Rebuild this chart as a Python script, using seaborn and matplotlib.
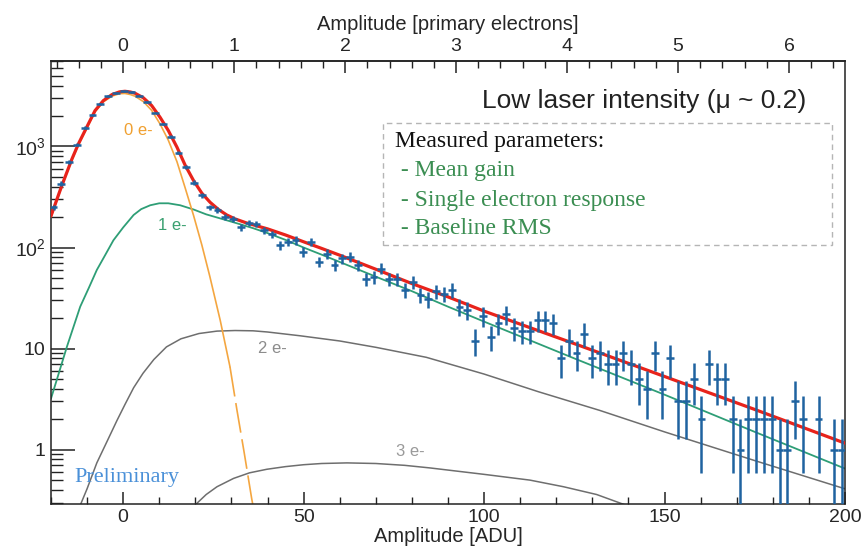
import numpy as np
import matplotlib
matplotlib.use("Agg")
import matplotlib.pyplot as plt
from matplotlib.patches import Rectangle
from matplotlib.ticker import MultipleLocator, LogLocator, FixedLocator, FixedFormatter, NullFormatter
import seaborn as sns

# histogram: entries per bin, bins of 2.163 ADU, first centre at -19.3 ADU
bin_first = -19.3
bin_width = 2.163
counts = [250, 430, 700, 1040, 1540, 2050, 2640, 3150, 3390, 3500,
          3450, 3180, 2735, 2166, 1660, 1250, 870, 625, 440, 330,
          250, 236, 202, 193, 160, 176, 172, 148, 135, 105,
          114, 118, 91, 114, 72, 87, 67, 78, 81, 67,
          49, 51, 62, 49, 49, 38, 46, 34, 31, 37,
          35, 38, 26, 24, 12, 21, 13, 18, 22, 16,
          15, 15, 19, 19, 18, 8, 12, 9, 14, 8,
          9, 7, 7, 9, 7, 5, 4, 9, 4, 8,
          3, 3, 5, 2, 7, 5, 5, 2, 1, 2,
          2, 2, 2, 1, 1, 3, 2, 0, 2, 0,
          1, 1]

# fit curves (ADU, entries)
total_x = [-20, -17, -14.2, -12.4, -10.1, -7.8, -5.5, -3.1, -1, 0.5, 2, 3.3, 5.6, 7.9, 10.2,
           12.5, 14.9, 17.2, 19.5, 21.8, 24.1, 26.4, 28.7, 31, 34, 37, 40, 45, 50, 55, 60,
           70, 80, 90, 100, 125, 150, 175, 200]
total_y = [205, 410, 750, 1060, 1550, 2260, 2840, 3260, 3470, 3515, 3460, 3360, 3030, 2540, 1950,
           1440, 985, 650, 460, 345, 280, 238, 210, 192, 176, 164, 153, 133, 114, 98, 84,
           61, 44, 32.5, 23.5, 11.2, 5.3, 2.5, 1.16]

e0_x = [-20, -17, -14.2, -12.4, -10.1, -7.8, -5.5, -3.1, -1, 0.5, 2, 3.3, 5.6, 7.9, 10.2,
        12.5, 14.9, 17.2, 19.5, 21.8, 24, 26.9, 29.6]
e0_y = [200, 403, 735, 1037, 1512, 2205, 2760, 3148, 3330, 3345, 3265, 3140, 2780, 2275, 1675,
        1155, 708, 387, 208, 106, 52, 19, 6.6]
e0_tail_x = [29.6, 31.5, 33.5, 35.6, 36.5]
e0_tail_y = [6.6, 2.5, 0.95, 0.33, 0.22]

e1_x = [-20, -18.4, -15.6, -11.9, -9.5, -7.3, -5, -2.7, 0, 2.9, 5, 7.5, 10, 12.5, 15.8, 19.5,
        23, 28.7, 32.4, 36.1, 40, 45, 50, 55, 60, 70, 80, 90, 100, 125, 150, 175, 200]
e1_y = [3.2, 4.9, 10.4, 26, 40, 60, 84, 118, 158, 210, 240, 262, 274, 274, 262, 238,
        213, 186, 170, 155, 139, 119, 100, 85, 72, 51.5, 37, 26, 18.5, 8.0, 3.5, 1.5, 0.65]

e2_x = [-12.5, -10, -7.3, -4.5, -1.7, 0.5, 2.9, 5.5, 8.5, 12, 16, 21, 26, 31, 36, 40, 49,
        60, 70, 84, 100, 115, 132, 150, 175, 200]
e2_y = [0.25, 0.41, 0.74, 1.2, 1.95, 2.8, 4.1, 5.7, 7.8, 10.4, 12.5, 14.1, 14.9, 15.1, 15.0, 14.6, 13.4,
        11.9, 10.3, 8.2, 5.6, 3.75, 2.45, 1.5, 0.78, 0.41]

e3_x = [20, 23, 26, 30.6, 35, 39.8, 45, 50, 55, 62, 70, 78, 85, 100, 112.7, 122, 131.2, 139]
e3_y = [0.285, 0.36, 0.43, 0.52, 0.59, 0.64, 0.68, 0.71, 0.73, 0.74, 0.73, 0.70, 0.66, 0.57,
        0.50, 0.43, 0.36, 0.285]

GAIN = 30.75  # ADU per primary electron
electron_ticks = [0, 1, 2, 3, 4, 5, 6]

sns.set_theme(style="ticks")
plt.rcParams['font.family'] = ['Liberation Sans', 'DejaVu Sans']
plt.rcParams['axes.edgecolor'] = '#222222'
plt.rcParams['axes.linewidth'] = 1.1

fig, ax = plt.subplots(figsize=(8.64, 5.5), dpi=100)
fig.subplots_adjust(left=0.059, right=0.978, bottom=0.0836, top=0.889)
ax.set_yscale('log')

grey = '#6e6e6e'
sns.lineplot(x=e3_x, y=e3_y, ax=ax, color=grey, lw=1.1, zorder=2)
sns.lineplot(x=e2_x, y=e2_y, ax=ax, color=grey, lw=1.1, zorder=2)
sns.lineplot(x=e1_x, y=e1_y, ax=ax, color='#2e9e76', lw=1.3, zorder=2)
sns.lineplot(x=e0_x, y=e0_y, ax=ax, color='#f4a640', lw=1.2, zorder=2)
sns.lineplot(x=e0_tail_x, y=e0_tail_y, ax=ax, color='#f4a640', lw=1.2, zorder=2,
             linestyle=(0, (18, 4)))
sns.lineplot(x=total_x, y=total_y, ax=ax, color='#e8231b', lw=2.3, zorder=3)

# data points with Poisson errors
n = np.array(counts, dtype=float)
xc = bin_first + bin_width * np.arange(len(n))
ok = n > 0
err = np.sqrt(n[ok])
lo = np.minimum(err, n[ok] * 0.999)
ax.errorbar(xc[ok], n[ok], xerr=bin_width / 2, yerr=[lo, err], fmt='none',
            ecolor='#1f63a0', elinewidth=1.8, capsize=0, zorder=4)

ax.set_xlim(-20, 200)
ax.set_ylim(0.29, 7000)

# axes ticks
ax.xaxis.set_major_locator(MultipleLocator(50))
ax.xaxis.set_minor_locator(MultipleLocator(10))
ax.yaxis.set_major_locator(FixedLocator([1, 10, 100, 1000]))
ax.yaxis.set_major_formatter(FixedFormatter(['1', '10', r'$\mathregular{10^2}$', r'$\mathregular{10^3}$']))
ax.yaxis.set_minor_locator(LogLocator(base=10, subs=np.arange(2, 10)))
ax.yaxis.set_minor_formatter(NullFormatter())
ax.tick_params(axis='x', which='major', direction='in', length=8.5, width=1.1,
               labelsize=14, pad=3.5, top=False, color='#222222')
ax.tick_params(axis='x', which='minor', direction='in', length=5, width=1.0, top=False,
               color='#222222')
ax.tick_params(axis='y', which='major', direction='in', length=17, width=1.1,
               labelsize=14, pad=4, right=False, color='#222222')
ax.tick_params(axis='y', which='minor', direction='in', length=8.5, width=1.0, right=False,
               color='#222222')
ax.set_xlabel('Amplitude [ADU]', fontsize=14.5, labelpad=1)
ax.set_ylabel('')

top = ax.secondary_xaxis('top', functions=(lambda a: a / GAIN, lambda e: e * GAIN))
top.xaxis.set_major_locator(FixedLocator(electron_ticks))
top.xaxis.set_minor_locator(MultipleLocator(0.2))
top.tick_params(axis='x', which='major', direction='in', length=8.5, width=1.1,
                labelsize=14, pad=4, color='#222222')
top.tick_params(axis='x', which='minor', direction='in', length=5, width=1.0, color='#222222')
top.set_xlabel('Amplitude [primary electrons]', fontsize=14.5, labelpad=6)

# curve labels
ax.text(4.2, 1440, '0 e-', color='#f0a030', fontsize=12, ha='center', va='center')
ax.text(13.6, 166, '1 e-', color='#3aa070', fontsize=12, ha='center', va='center')
ax.text(41.3, 10, '2 e-', color='#8c8c8c', fontsize=12, ha='center', va='center')
ax.text(79.5, 0.95, '3 e-', color='#9a9a9a', fontsize=12, ha='center', va='center')

ax.text(0.951, 0.910, 'Low laser intensity (\u03bc ~ 0.2)', transform=ax.transAxes,
        fontsize=19, ha='right', va='center', color='#222222')

ax.add_patch(Rectangle((0.418, 0.585), 0.566, 0.275, transform=ax.transAxes, fill=False,
                       edgecolor='#b5b5b5', lw=1.0, linestyle=(0, (4, 3)), zorder=1))
serif = ['Liberation Serif', 'DejaVu Serif']
ax.text(0.433, 0.819, 'Measured parameters:', transform=ax.transAxes, fontsize=17,
        family=serif, color='#111111', va='center')
for yy, s in zip([0.752, 0.686, 0.623],
                 [' - Mean gain', ' - Single electron response', ' - Baseline RMS']):
    ax.text(0.433, yy, s, transform=ax.transAxes, fontsize=17, family=serif,
            color='#3b8e52', va='center')

ax.text(0.030, 0.059, 'Preliminary', transform=ax.transAxes, fontsize=16, family=serif,
        color='#4a90d8', va='center')

fig.savefig('out.png', dpi=100)
